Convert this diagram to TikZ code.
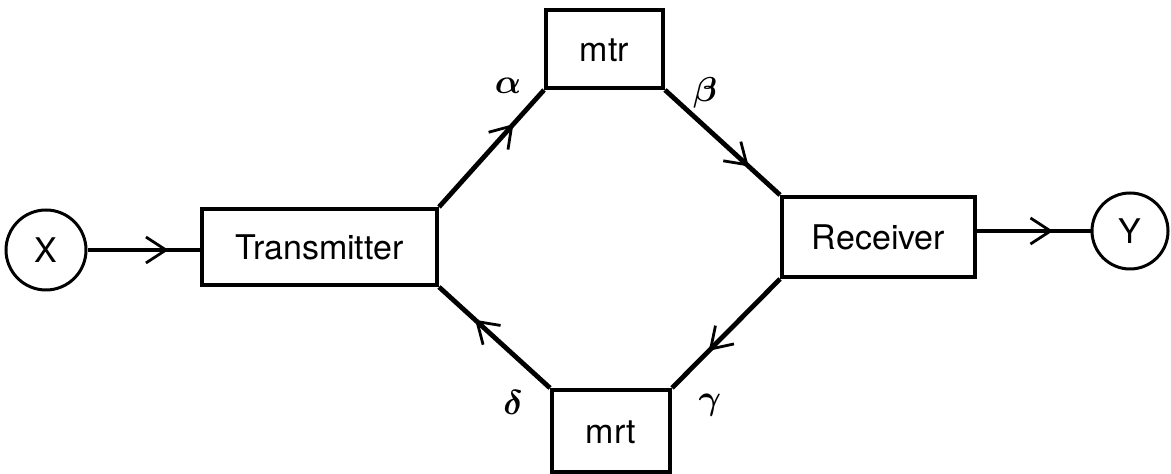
\documentclass[tikz,border=0pt]{standalone}
\usepackage{fontspec}
\usepackage{amsmath}
\setmainfont{TeX Gyre Heros}
\usetikzlibrary{arrows.meta,decorations.markings}
\begin{document}
\begin{tikzpicture}[x=0.5pt,y=-0.5pt,
  box/.style={draw,line width=2pt,rectangle,inner sep=0pt,font=\fontsize{17}{20}\selectfont,text height=1.3em,text depth=0pt},
  term/.style={draw,circle,line width=1.5pt,inner sep=0pt,font=\fontsize{17}{20}\selectfont},
  conn/.style={line width=2.4pt},
  thin/.style={line width=1.6pt},
  mid/.style={postaction={decorate},decoration={markings,mark=at position #1 with {\arrow{Straight Barb[length=10pt,width=13pt,line width=1.4pt]}}}},
  lbl/.style={font=\fontsize{17}{20}\selectfont}]
\useasboundingbox (0,0) rectangle (1171,474);
\node[box,minimum width=117.5pt,minimum height=38pt] (tx) at (319.5,247) {Transmitter};
\node[box,minimum width=58.5pt,minimum height=39pt] (mtr) at (604.5,49) {mtr};
\node[box,minimum width=59pt,minimum height=41pt] (mrt) at (611,431) {mrt};
\node[box,minimum width=96.5pt,minimum height=40pt] (rx) at (878.5,237) {Receiver};
\node[term,minimum size=40pt] (x) at (46,250) {X};
\node[term,minimum size=38pt] (y) at (1130,231) {Y};
\draw[thin,mid=0.72] (x.east) -- (x.east -| tx.west);
\draw[thin,mid=0.67] (rx.east |- y.west) -- (y.west);
\draw[conn,mid=0.71] (tx.north east) -- (mtr.south west);
\draw[conn,mid=0.73] (mtr.south east) -- (rx.north west);
\draw[conn,mid=0.66] (rx.south west) -- (mrt.north east);
\draw[conn,mid=0.675] (mrt.north west) -- (tx.south east);
\node[lbl] (la) at (508,86) {$\boldsymbol{\alpha}$};
\node[lbl] (lb) at (705,93) {$\boldsymbol{\beta}$};
\node[lbl] (lg) at (710,405) {$\boldsymbol{\gamma}$};
\node[lbl] (ld) at (513,403) {$\boldsymbol{\delta}$};
\end{tikzpicture}
\end{document}
